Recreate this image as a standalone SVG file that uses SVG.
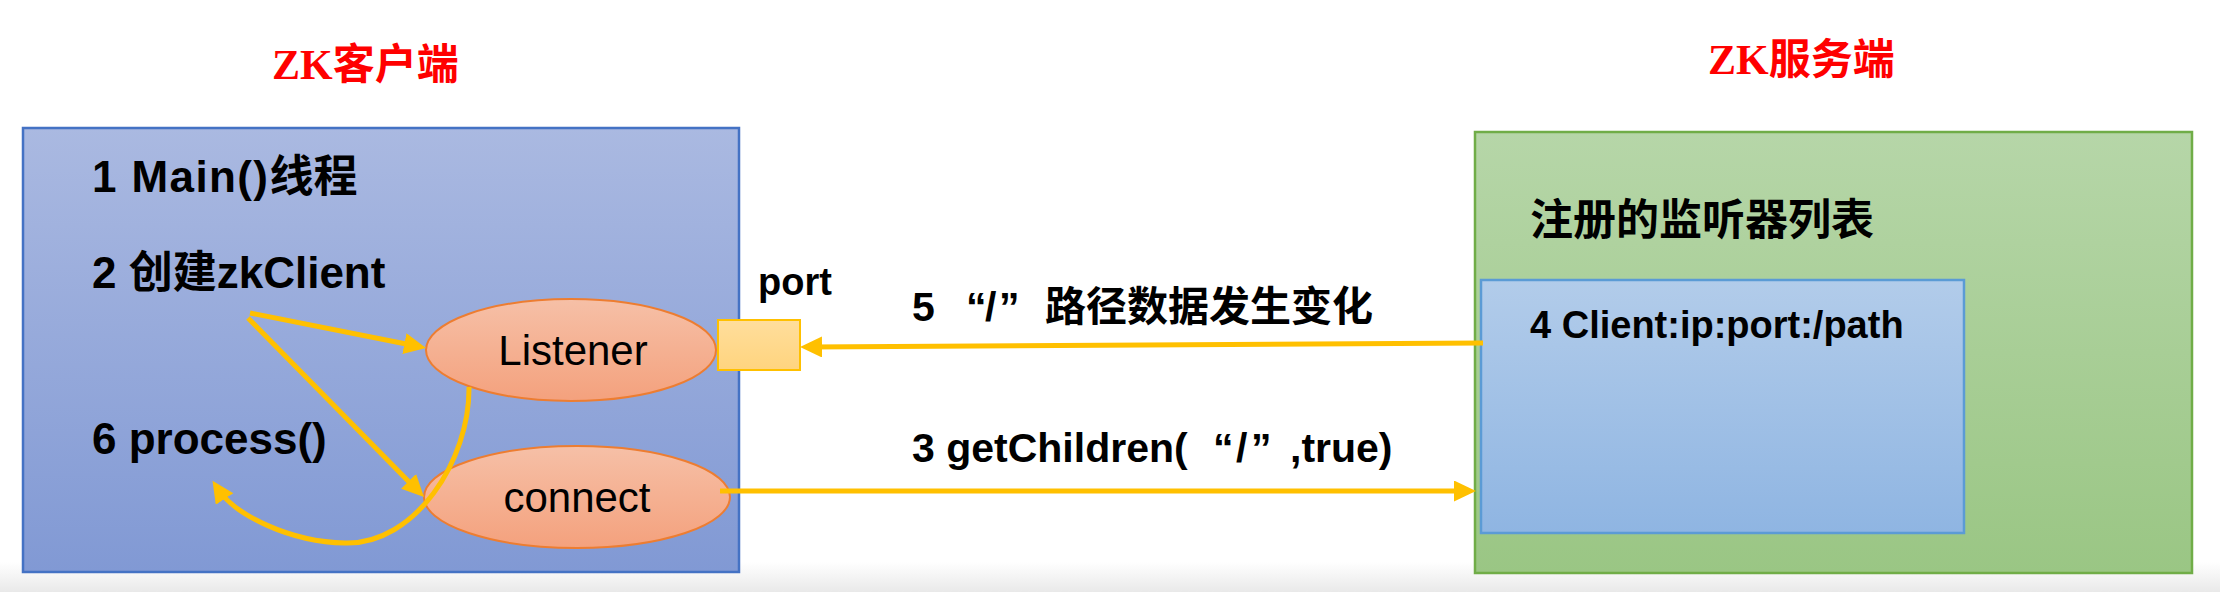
<svg xmlns="http://www.w3.org/2000/svg" width="2220" height="592" viewBox="0 0 2220 592">
<defs>
<style>
.t{font-family:"Liberation Sans","Noto Sans CJK SC",sans-serif;font-weight:bold;fill:#000}
.ttl{font-family:"Noto Sans CJK SC",sans-serif;font-weight:bold;fill:#FF0000;font-size:42px}
.zk{font-family:"Liberation Serif",serif;font-weight:bold}
.el{stroke:#ED7D31;stroke-width:2;fill:url(#gO)}
.et{font-family:"Liberation Sans",sans-serif;font-size:42px;fill:#000;text-anchor:middle}
.ar{fill:none;stroke:#FFC000;stroke-width:5}
</style>
<linearGradient id="gB" x1="0" y1="0" x2="0" y2="1"><stop offset="0" stop-color="#AAB9E1"/><stop offset="1" stop-color="#8199D4"/></linearGradient>
<linearGradient id="gG" x1="0" y1="0" x2="0" y2="1"><stop offset="0" stop-color="#B6D6A8"/><stop offset="1" stop-color="#9AC684"/></linearGradient>
<linearGradient id="gL" x1="0" y1="0" x2="0" y2="1"><stop offset="0" stop-color="#B2CCEA"/><stop offset="1" stop-color="#8FB5E2"/></linearGradient>
<linearGradient id="gO" x1="0" y1="0" x2="0" y2="1"><stop offset="0" stop-color="#F6C0A7"/><stop offset="1" stop-color="#F4A17D"/></linearGradient>
<linearGradient id="gP" x1="0" y1="0" x2="0" y2="1"><stop offset="0" stop-color="#FFDE9C"/><stop offset="1" stop-color="#FFD47E"/></linearGradient>
<linearGradient id="gS" x1="0" y1="0" x2="0" y2="1"><stop offset="0" stop-color="#FFFFFF"/><stop offset="1" stop-color="#E9E9E9"/></linearGradient>
<marker id="ah" markerUnits="userSpaceOnUse" markerWidth="24" markerHeight="22" refX="12" refY="10.5" orient="auto" viewBox="0 0 24 22">
<path d="M0,0 L22,10.5 L0,21 z" fill="#FFC000"/>
</marker>
</defs>
<rect x="0" y="0" width="2220" height="592" fill="#FFFFFF"/>
<rect x="0" y="562" width="2220" height="30" fill="url(#gS)"/>

<g id="title-client"><text class="ttl" x="272" y="79"><tspan class="zk">ZK</tspan>客户端</text></g>
<g id="title-server"><text class="ttl" x="1708" y="74"><tspan class="zk">ZK</tspan>服务端</text></g>

<g id="client-box">
<rect x="23" y="128" width="716" height="444" fill="url(#gB)" stroke="#4472C4" stroke-width="2.5"/>
<text class="t" x="92" y="192" font-size="44"><tspan letter-spacing="1.4">1 Main()</tspan>线程</text>
<text class="t" x="92" y="288" font-size="44">2 创建zkClient</text>
<text class="t" x="92" y="454" font-size="44">6 process()</text>
</g>

<g id="server-box">
<rect x="1475" y="132" width="717" height="441" fill="url(#gG)" stroke="#70AD47" stroke-width="2.5"/>
<text class="t" x="1530" y="235" font-size="43">注册的监听器列表</text>
</g>

<g id="listener-list">
<rect x="1481" y="280" width="483" height="253" fill="url(#gL)" stroke="#5B9BD5" stroke-width="2.5"/>
<text class="t" x="1530" y="338" font-size="38">4 Client:ip:port:/path</text>
</g>

<g id="listener">
<ellipse class="el" cx="571" cy="350" rx="145" ry="51"/>
<text class="et" x="573" y="365">Listener</text>
</g>

<g id="connect">
<ellipse class="el" cx="577" cy="497" rx="153" ry="51"/>
<text class="et" x="577" y="512">connect</text>
</g>

<g id="port">
<rect x="718" y="320" width="82" height="50" fill="url(#gP)" stroke="#FFC000" stroke-width="2"/>
<text class="t" x="758" y="295" font-size="38">port</text>
</g>

<g id="connectors">
<path class="ar" d="M1483,343 L810,347" marker-end="url(#ah)"/>
<path class="ar" d="M720,491 L1466,491" marker-end="url(#ah)"/>
<path class="ar" d="M250,313 L416.2,346" marker-end="url(#ah)"/>
<path class="ar" d="M248,318 L417,489.9" marker-end="url(#ah)"/>
<path class="ar" d="M469,387 C470,460 415,545 345,543 C290,542 235,515 218,489" marker-end="url(#ah)"/>
<text class="t" y="321" font-size="41"><tspan x="912">5 </tspan><tspan x="966">“</tspan><tspan x="985">/</tspan><tspan x="999">”</tspan><tspan x="1045">路径数据发生变化</tspan></text>
<text class="t" y="462" font-size="41"><tspan x="912">3 getChildren(</tspan><tspan x="1213">“</tspan><tspan x="1236">/</tspan><tspan x="1251">”</tspan><tspan x="1290">,true)</tspan></text>
</g>
</svg>
